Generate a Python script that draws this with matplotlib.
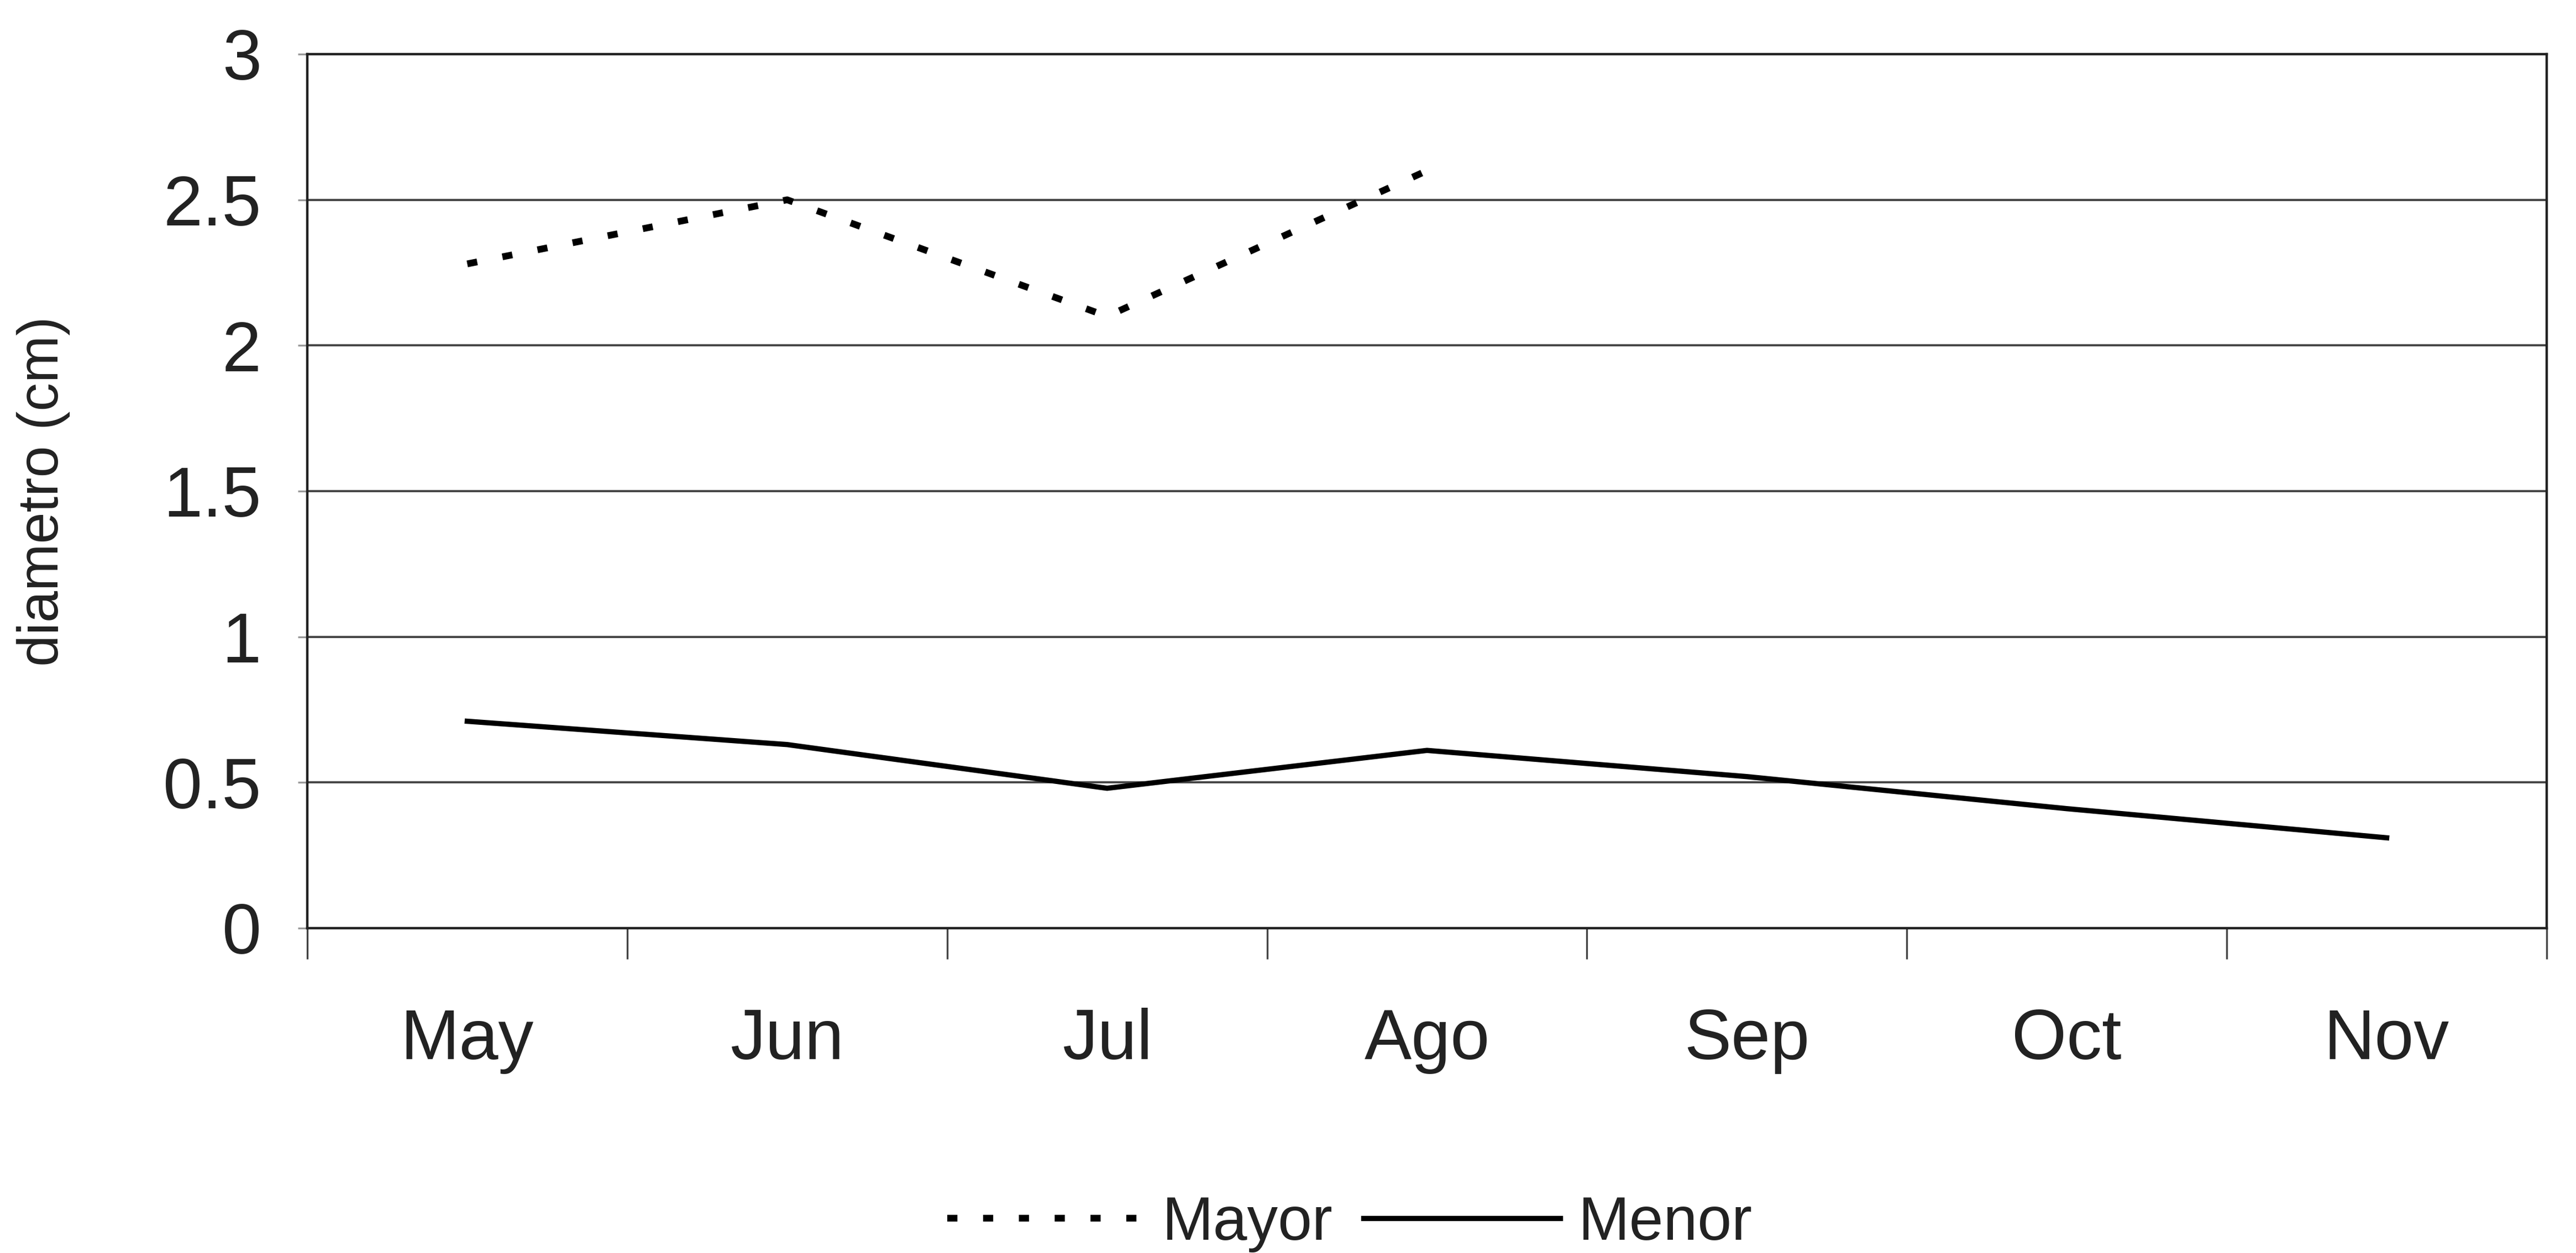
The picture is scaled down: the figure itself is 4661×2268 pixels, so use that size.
import matplotlib
matplotlib.use('Agg')
import matplotlib.pyplot as plt

# datos: diametro mensual (cm)
meses = ['May', 'Jun', 'Jul', 'Ago', 'Sep', 'Oct', 'Nov']
mayor = [2.28, 2.50, 2.10, 2.60]
menor = [0.71, 0.63, 0.48, 0.61, 0.52, 0.41, 0.31]
y_ticks = [0, 0.5, 1, 1.5, 2, 2.5, 3]
y_labels = ['0', '0.5', '1', '1.5', '2', '2.5', '3']

plt.rcParams['font.family'] = ['Liberation Sans Narrow', 'Liberation Sans', 'DejaVu Sans']

fig = plt.figure(figsize=(23.305, 11.34), dpi=200)
ax = fig.add_axes([0.1193, 0.2593, 0.8693, 0.6975])

x = list(range(len(meses)))

# lineas
ax.plot(x[:len(mayor)], mayor, color='black', linewidth=4.4,
        linestyle=(0, (1.5, 3.8)), label='Mayor')
ax.plot(x, menor, color='black', linewidth=3.4, label='Menor')

# ejes
ax.set_xlim(-0.5, len(meses) - 0.5)
ax.set_ylim(0, 3)
ax.set_yticks(y_ticks)
ax.set_yticklabels(y_labels)
ax.set_xticks(x)
ax.set_xticklabels(meses)
ax.set_xticks([i - 0.5 for i in range(len(meses) + 1)], minor=True)

ax.grid(axis='y', color='#444444', linewidth=1.4)
ax.set_axisbelow(True)
for s in ax.spines.values():
    s.set_color('#222222')
    s.set_linewidth(1.6)

ax.tick_params(axis='x', which='major', length=0, pad=52, labelsize=46, labelcolor='#222222')
ax.tick_params(axis='x', which='minor', length=20, width=1.2, color='#444444')
ax.tick_params(axis='y', length=6, width=1.2, color='#999999', pad=24,
               labelsize=46, labelcolor='#222222')

ax.set_ylabel('diametro (cm)', fontsize=37, color='#222222')
ax.yaxis.set_label_coords(-0.106, 0.5)

fig.legend(loc='center', bbox_to_anchor=(0.524, 0.0234), ncol=2, frameon=False,
           fontsize=40, handlelength=3.2, columnspacing=0.5, handletextpad=0.3,
           labelcolor='#222222')

fig.savefig('out.png', dpi=200, facecolor='white')
